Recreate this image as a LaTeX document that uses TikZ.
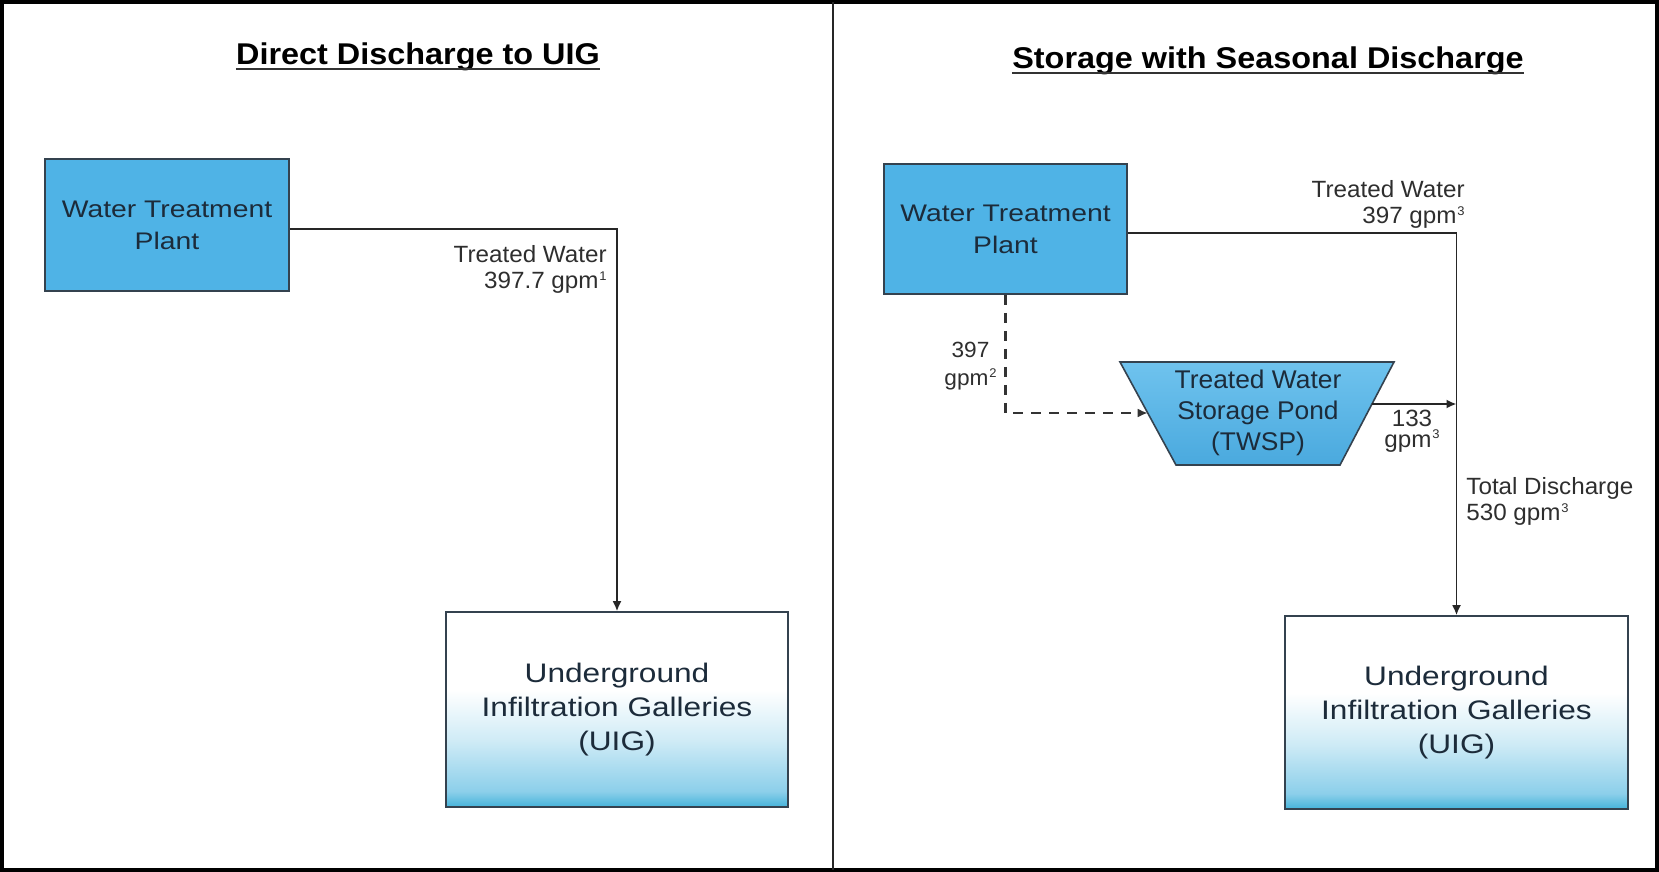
\documentclass[tikz,border=0pt]{standalone}
\usepackage{fontspec}
\setmainfont{Liberation Sans}
\newfontfamily\boxfont{Liberation Sans}[FakeStretch=1.18]
\newfontfamily\lblfont{Liberation Sans}[FakeStretch=1.03]
\newfontfamily\ttlfont{Liberation Sans Bold}[FakeStretch=1.08]
\usetikzlibrary{arrows.meta}
\newcommand\supnum[1]{\kern0.4pt\raisebox{4.2pt}{\fontsize{6.3pt}{6.3pt}\selectfont #1}}
\definecolor{wtpblue}{HTML}{4FB3E6}
\definecolor{edgegray}{HTML}{34424F}
\definecolor{boxtext}{HTML}{1C2B3A}
\definecolor{lbltext}{HTML}{2E2E2E}
\definecolor{uigbot}{HTML}{45B3DA}
\definecolor{uigmid}{HTML}{8CCFEA}
\definecolor{uiglight}{HTML}{CFEBF6}
\definecolor{pondtop}{HTML}{6FC3EE}
\definecolor{pondbot}{HTML}{4AA9DE}
\pgfdeclareverticalshading{uigshade}{100bp}{color(0bp)=(uigbot); color(25bp)=(uigbot); color(29bp)=(uigmid); color(42bp)=(uiglight); color(55bp)=(white); color(75bp)=(white); color(100bp)=(white)}
\begin{document}
\begin{tikzpicture}[x=0.5pt,y=-0.5pt,
  wtp/.style={draw=edgegray, line width=0.8pt, fill=wtpblue, inner sep=0pt, align=center, text=boxtext, font=\boxfont\fontsize{12pt}{16pt}\selectfont},
  uig/.style={draw=edgegray, line width=0.8pt, shade, shading=uigshade, inner sep=0pt, align=center, text=boxtext, font=\boxfont\fontsize{13.4pt}{17pt}\selectfont},
  lbl/.style={inner sep=0pt, text=lbltext, font=\lblfont\fontsize{11.75pt}{13pt}\selectfont},
  pondtext/.style={inner sep=0pt, align=center, text=boxtext, font=\lblfont\fontsize{12.8pt}{15.5pt}\selectfont},
  ttl/.style={inner sep=0pt, font=\ttlfont\fontsize{15pt}{18pt}\selectfont},
  conn/.style={draw=black!85, line width=0.9pt},
  tip/.style={-{Latex[length=5pt,width=4.5pt]}},
  dashconn/.style={draw=black!80, line width=1.2pt, dash pattern=on 5pt off 4pt},
]
\useasboundingbox (0,0) rectangle (1659,872);
% frame
\draw[line width=1.75pt] (2,2) rectangle (1657,870);
\draw[line width=1pt, black!85] (833,2) -- (833,870);

% titles
\node[ttl, anchor=base] (ttlL) at (418,65) {Direct Discharge to UIG};
\draw[line width=1pt, black!80] ([yshift=-2.2pt]ttlL.base west) -- ([yshift=-2.2pt]ttlL.base east);
\node[ttl, anchor=base] (ttlR) at (1268,68.5) {Storage with Seasonal Discharge};
\draw[line width=1pt, black!80] ([yshift=-2.2pt]ttlR.base west) -- ([yshift=-2.2pt]ttlR.base east);

% left panel
\node[wtp, minimum width=122pt, minimum height=66pt] (wtpL) at (167,225) {Water Treatment\\Plant};
\node[uig, minimum width=171pt, minimum height=97.5pt] (uigL) at (617,709.5) {Underground\\Infiltration Galleries\\(UIG)};
\draw[conn, tip] ([yshift=-2pt]wtpL.east) -| (uigL.north);
\node[lbl, anchor=north east, align=right] (lblL) at (607,245) {Treated Water\\397.7 gpm\supnum{1}};

% right panel
\node[wtp, minimum width=121.5pt, minimum height=65pt] (wtpR) at (1005.5,229) {Water Treatment\\Plant};
\node[uig, minimum width=171.5pt, minimum height=96.5pt] (uigR) at (1456.5,712.5) {Underground\\Infiltration Galleries\\(UIG)};
\draw[conn, tip] ([yshift=-2pt]wtpR.east) -| (uigR.north);
\node[lbl, anchor=north east, align=right] (lblRt) at (1465,180) {Treated Water\\397 gpm\supnum{3}};

% pond
\draw[draw=edgegray, line width=0.8pt, top color=pondtop, bottom color=pondbot] (1120,362) -- (1394,362) -- (1340,465) -- (1176,465) -- cycle;
\node[pondtext] (twsp) at (1258,413) {Treated Water\\Storage Pond\\(TWSP)};
\coordinate (pondW) at (1147.7,413);
\coordinate (pondE) at (1372,404);
\draw[dashconn, tip] (wtpR.south) |- (pondW);
\draw[conn, tip] (pondE) -- (pondE -| uigR.north);

\node[lbl, anchor=north, align=center, font=\lblfont\fontsize{11pt}{14pt}\selectfont] (lbl397) at (970.5,342) {397\\gpm\supnum{2}};
\node[lbl, anchor=base] (lbl133a) at (1412,426) {133};
\node[lbl, anchor=base] (lbl133b) at (1412,447) {gpm\supnum{3}};
\node[lbl, anchor=north west, align=left] (lblTot) at (1466,477) {Total Discharge\\530 gpm\supnum{3}};
\end{tikzpicture}
\end{document}
